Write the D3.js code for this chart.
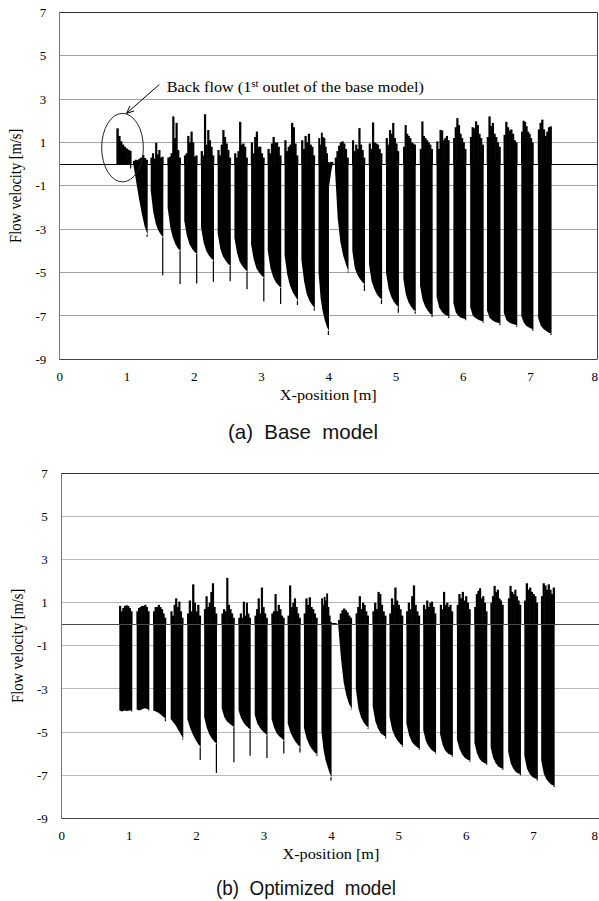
<!DOCTYPE html>
<html>
<head>
<meta charset="utf-8">
<script src="https://cdn.jsdelivr.net/npm/d3@7/dist/d3.min.js"></script>
<style>
  html, body { margin: 0; padding: 0; background: #fff; }
  svg { display: block; }
</style>
</head>
<body>
<script>
// Axis ticks shared by both panels
const xTicks = [0, 1, 2, 3, 4, 5, 6, 7, 8];
const yTicks = [-9, -7, -5, -3, -1, 1, 3, 5, 7];
const gridLevels = [-7, -5, -3, -1, 1, 3, 5];

// (a) Base model: one entry per outlet band.
// start/end = band extent [m]; low = lower velocity profile across the band [m/s];
// tip = sharp minimum at the band's right end; high = upper velocity samples across the band.
const baseStart = [0.853, 1.10, 1.359, 1.611, 1.858, 2.107, 2.355, 2.604, 2.852, 3.10, 3.35, 3.60, 3.855, 4.01, 4.10, 4.357, 4.605, 4.858, 5.116, 5.364, 5.61, 5.86, 6.11, 6.36, 6.61, 6.87, 7.12];
const baseEnd   = [1.07, 1.314, 1.547, 1.805, 2.052, 2.30, 2.55, 2.80, 3.05, 3.30, 3.55, 3.80, 4.01, 4.07, 4.30, 4.546, 4.80, 5.05, 5.30, 5.552, 5.80, 6.05, 6.31, 6.56, 6.81, 7.05, 7.32];
const baseLow = [
  [0, 0, 0, 0, 0, 0],
  [0, -0.8, -1.6, -2.3, -2.9, -3.25],
  [-1.2, -2.2, -2.75, -3.05, -3.25, -3.38],
  [-2.0, -2.9, -3.4, -3.7, -3.9, -4.0],
  [-2.6, -3.3, -3.7, -3.9, -4.05, -4.15],
  [-2.9, -3.6, -4.0, -4.2, -4.35, -4.45],
  [-3.2, -3.9, -4.25, -4.45, -4.6, -4.7],
  [-3.4, -4.1, -4.5, -4.7, -4.85, -4.95],
  [-3.7, -4.4, -4.8, -5.0, -5.15, -5.25],
  [-4.0, -4.8, -5.2, -5.45, -5.6, -5.7],
  [-4.2, -5.1, -5.6, -5.9, -6.1, -6.3],
  [-4.4, -5.4, -6.0, -6.3, -6.5, -6.65],
  [-5.0, -6.2, -6.8, -7.2, -7.5, -7.7],
  [-1.05, -0.8, -0.55, -0.3, -0.1, 0],
  [-0.3, -2.5, -3.6, -4.2, -4.6, -4.95],
  [-4.0, -4.8, -5.1, -5.3, -5.45, -5.55],
  [-4.6, -5.4, -5.75, -6.0, -6.15, -6.25],
  [-5.0, -5.75, -6.1, -6.35, -6.5, -6.6],
  [-5.3, -6.0, -6.35, -6.55, -6.7, -6.8],
  [-5.6, -6.25, -6.55, -6.75, -6.9, -6.98],
  [-6.1, -6.6, -6.8, -6.92, -6.98, -7.02],
  [-6.4, -6.85, -7.0, -7.08, -7.12, -7.15],
  [-6.6, -7.0, -7.1, -7.18, -7.22, -7.26],
  [-6.75, -7.1, -7.2, -7.28, -7.32, -7.36],
  [-6.85, -7.2, -7.3, -7.36, -7.4, -7.44],
  [-7.0, -7.3, -7.45, -7.52, -7.58, -7.62],
  [-7.1, -7.45, -7.6, -7.7, -7.78, -7.82]
];
const baseTip = [-0.2, -3.35, -5.12, -5.53, -5.5, -5.42, -5.4, -5.77, -6.34, -6.45, -6.5, -6.75, -7.88, 0, -5.0, -5.85, -6.45, -6.85, -6.9, -7.05, -7.1, -7.2, -7.32, -7.43, -7.5, -7.68, -7.88];
const baseHigh = [
  [1.65, 1.3, 1.05, 0.9, 0.8, 0.72, 0.66, 0.62],
  [0.15, 0.2, 0.18, 0.25, 0.3, 0.42, 0.28, 0.2],
  [0.3, 0.5, 0.25, 0.98, 0.45, 0.65, 0.3, 0.34],
  [0.3, 0.34, 0.5, 2.2, 1.2, 1.9, 0.65, 0.3],
  [0.4, 0.5, 1.3, 1.0, 1.5, 1.0, 0.35, 0.4],
  [0.6, 0.4, 2.3, 0.9, 1.57, 1.1, 0.8, 0.4],
  [0.65, 0.4, 0.9, 1.57, 1.25, 0.95, 0.65, 0.3],
  [0.5, 0.3, 0.6, 1.95, 0.9, 0.95, 0.8, 0.3],
  [1.0, 0.5, 1.25, 1.5, 0.8, 0.8, 0.5, 0.3],
  [0.7, 0.5, 0.95, 1.25, 1.0, 1.0, 0.8, 0.4],
  [1.1, 0.6, 0.8, 0.9, 1.9, 1.7, 0.95, 0.4],
  [1.1, 0.7, 1.3, 1.0, 1.4, 0.9, 0.8, 0.4],
  [1.2, 0.9, 1.45, 1.25, 1.2, 0.8, 0.5, 0.1],
  [0, 0.05, 0.1, 0.1, 0.1, 0.1, 0.1, 0.1],
  [0.3, 0.6, 0.85, 1.0, 1.05, 0.95, 0.7, 0.3],
  [1.1, 0.6, 0.9, 0.7, 1.66, 0.9, 0.65, 0.3],
  [0.95, 0.7, 1.92, 1.0, 0.95, 0.9, 0.7, 0.5],
  [1.2, 0.9, 1.57, 1.4, 1.9, 1.2, 0.95, 0.6],
  [0.8, 1.8, 1.4, 1.3, 1.2, 1.0, 0.95, 0.9],
  [0.7, 1.97, 1.3, 1.2, 1.1, 1.0, 0.9, 0.7],
  [1.05, 0.7, 1.58, 1.55, 1.1, 1.2, 1.3, 1.1],
  [1.2, 1.7, 2.12, 1.8, 1.4, 1.2, 1.0, 0.7],
  [1.25, 1.7, 1.65, 1.97, 1.8, 1.4, 1.2, 0.9],
  [1.25, 2.2, 1.75, 1.9, 1.4, 1.25, 1.0, 0.8],
  [1.35, 1.95, 1.7, 1.55, 1.6, 1.4, 1.1, 1.0],
  [1.5, 2.0, 1.95, 1.75, 1.5, 1.4, 1.2, 1.0],
  [1.6, 1.9, 2.05, 1.6, 1.3, 1.5, 1.7, 1.74]
];

// (b) Optimized model, same layout of fields
const optStart = [0.861, 1.118, 1.365, 1.623, 1.87, 2.12, 2.38, 2.63, 2.87, 3.12, 3.36, 3.60, 3.86, 4.02, 4.11, 4.37, 4.62, 4.87, 5.12, 5.37, 5.62, 5.87, 6.13, 6.37, 6.63, 6.87, 7.12];
const optEnd   = [1.053, 1.306, 1.553, 1.81, 2.07, 2.31, 2.57, 2.81, 3.06, 3.31, 3.55, 3.80, 4.01, 4.09, 4.31, 4.56, 4.82, 5.07, 5.32, 5.56, 5.81, 6.07, 6.32, 6.56, 6.82, 7.07, 7.32];
const optLow = [
  [-4.0, -4.05, -4.0, -4.02, -4.0, -4.0],
  [-3.95, -4.0, -3.95, -3.9, -3.92, -3.98],
  [-4.0, -4.05, -4.1, -4.2, -4.3, -4.4],
  [-4.4, -4.55, -4.7, -4.9, -5.1, -5.3],
  [-4.4, -4.8, -5.1, -5.35, -5.55, -5.7],
  [-4.3, -4.8, -5.1, -5.3, -5.45, -5.55],
  [-3.9, -4.3, -4.5, -4.6, -4.7, -4.78],
  [-4.0, -4.35, -4.55, -4.7, -4.8, -4.9],
  [-4.2, -4.6, -4.8, -4.95, -5.05, -5.15],
  [-4.4, -4.8, -5.05, -5.2, -5.3, -5.4],
  [-4.6, -5.0, -5.25, -5.45, -5.6, -5.7],
  [-4.8, -5.3, -5.6, -5.8, -5.95, -6.05],
  [-5.0, -5.8, -6.3, -6.6, -6.9, -7.1],
  [0, 0, 0, 0, 0, 0],
  [-0.1, -1.6, -2.7, -3.3, -3.7, -3.92],
  [-3.0, -3.9, -4.3, -4.55, -4.7, -4.8],
  [-3.8, -4.5, -4.85, -5.05, -5.15, -5.24],
  [-4.3, -4.9, -5.2, -5.4, -5.55, -5.63],
  [-4.6, -5.15, -5.45, -5.6, -5.7, -5.78],
  [-4.9, -5.4, -5.65, -5.8, -5.9, -5.94],
  [-5.1, -5.6, -5.85, -5.98, -6.05, -6.1],
  [-5.35, -5.8, -6.05, -6.2, -6.28, -6.33],
  [-5.5, -6.0, -6.25, -6.38, -6.45, -6.48],
  [-5.7, -6.2, -6.45, -6.6, -6.67, -6.71],
  [-5.9, -6.45, -6.7, -6.85, -6.92, -6.95],
  [-6.1, -6.7, -6.95, -7.08, -7.15, -7.18],
  [-6.3, -6.95, -7.2, -7.35, -7.45, -7.49]
];
const optTip = [-4.05, -4.0, -4.5, -5.35, -6.3, -6.9, -6.4, -6.1, -6.2, -6.0, -5.95, -6.1, -7.25, 0, -3.95, -4.85, -5.3, -5.68, -5.82, -6.0, -6.15, -6.38, -6.52, -6.75, -7.0, -7.25, -7.55];
const optHigh = [
  [0.85, 0.6, 0.75, 0.85, 0.88, 0.85, 0.75, 0.6],
  [0.6, 0.75, 0.8, 0.85, 0.85, 0.9, 0.8, 0.6],
  [0.6, 0.8, 0.8, 0.9, 0.8, 0.7, 0.5, 0.3],
  [0.6, 0.4, 0.9, 1.2, 0.8, 1.05, 0.6, 0.3],
  [0.5, 1.1, 0.6, 1.85, 1.0, 0.6, 0.9, 0.4],
  [0.7, 1.3, 0.8, 1.0, 1.5, 1.9, 0.8, 0.5],
  [0.5, 0.7, 0.6, 2.15, 0.9, 0.7, 0.5, 0.3],
  [0.3, 0.5, 0.3, 1.05, 0.4, 1.0, 0.5, 0.3],
  [0.4, 0.7, 1.2, 0.5, 1.7, 0.8, 0.5, 0.3],
  [0.5, 0.6, 1.4, 0.6, 0.9, 0.7, 0.4, 0.3],
  [0.4, 1.8, 0.8, 1.0, 1.2, 0.8, 0.5, 0.3],
  [0.5, 1.2, 0.9, 1.25, 0.8, 0.7, 0.5, 0.3],
  [1.2, 0.9, 1.27, 1.1, 1.43, 0.8, 0.4, 0.1],
  [0.05, 0.06, 0.06, 0.05, 0.06, 0.05, 0.04, 0.03],
  [0.2, 0.5, 0.65, 0.73, 0.65, 0.55, 0.4, 0.3],
  [0.5, 0.8, 1.3, 0.7, 1.0, 0.9, 0.6, 0.4],
  [0.6, 1.0, 0.7, 1.5, 1.4, 0.9, 0.6, 0.4],
  [0.5, 1.2, 0.9, 1.7, 1.1, 0.9, 0.7, 0.4],
  [0.6, 1.0, 0.7, 1.3, 1.8, 0.9, 0.6, 0.4],
  [0.9, 0.7, 1.1, 0.8, 1.0, 1.05, 0.8, 0.5],
  [0.9, 0.7, 1.5, 0.9, 1.0, 0.8, 0.9, 0.6],
  [0.9, 1.4, 1.2, 1.5, 1.1, 1.3, 1.0, 0.7],
  [0.8, 1.4, 1.55, 1.67, 1.2, 1.3, 1.0, 0.6],
  [1.0, 1.3, 1.78, 1.5, 1.6, 1.2, 1.1, 0.9],
  [1.2, 1.78, 1.5, 1.4, 1.6, 1.3, 1.1, 0.9],
  [1.1, 1.9, 1.6, 1.7, 1.5, 1.4, 1.3, 1.0],
  [1.3, 1.9, 1.8, 1.6, 1.85, 1.6, 1.4, 1.7]
];

// Call-out on the base model (data units)
const noteParts = ["Back flow (1", "st", " outlet of the base model)"];
const noteAt = [1.597, 3.34];
const arrowFrom = [1.487, 3.67];
const arrowTo = [1.0, 2.34];
const ringCenter = [0.94, 0.76];
const ringRadius = [0.31, 1.58];

const serif = "'Liberation Serif','Times New Roman',Times,serif";
const captionFont = "'Liberation Sans Narrow','Liberation Sans',Arial,sans-serif";

const svg = d3.select("body").append("svg")
  .attr("width", 599).attr("height", 901)
  .attr("viewBox", "0 0 599 901");

const crisp = v => Math.round(v - 0.5) + 0.5;

function drawPanel(p) {
  const x = d3.scaleLinear().domain([0, 8]).range([p.left, p.right]);
  const y = d3.scaleLinear().domain([-9, 7]).range([p.bottom, p.top]);
  const g = svg.append("g");

  // horizontal gridlines
  g.append("g").selectAll("line").data(gridLevels).join("line")
    .attr("x1", p.left).attr("x2", p.right)
    .attr("y1", d => crisp(y(d))).attr("y2", d => crisp(y(d)))
    .attr("stroke", p.gridColor).attr("stroke-width", 1);

  // outlet bands
  const bands = g.append("g");
  const lowArea = d3.area().x(d => x(d[0])).y0(y(0)).y1(d => y(d[1]));
  p.start.forEach((s, i) => {
    const e = p.end[i];
    const low = p.low[i];
    const pts = low.map((v, k) => [s + (e - s) * k / (low.length - 1), v]);
    bands.append("path").datum(pts).attr("d", lowArea).attr("fill", "#000");

    const last = low[low.length - 1];
    if (p.tip[i] < last) {
      bands.append("line")
        .attr("x1", x(e) - 0.6).attr("x2", x(e) - 0.6)
        .attr("y1", y(last)).attr("y2", y(p.tip[i]))
        .attr("stroke", "#000").attr("stroke-width", 1.2);
    }

    // upper samples drawn as a dense comb of narrow columns
    const hi = p.high[i];
    const slot = d3.scaleBand().domain(d3.range(hi.length)).range([x(s), x(e)]);
    bands.append("g").selectAll("rect").data(hi).join("rect")
      .attr("x", (d, k) => slot(k) - 0.3)
      .attr("width", slot.bandwidth() + 0.6)
      .attr("y", d => y(d))
      .attr("height", d => y(0) - y(d) + 0.5)
      .attr("fill", "#000");
  });

  // zero line
  g.append("line")
    .attr("x1", p.left).attr("x2", p.right)
    .attr("y1", crisp(y(0))).attr("y2", crisp(y(0)))
    .attr("stroke", p.zeroColor).attr("stroke-width", 1);

  // frame
  const frame = g.append("g").attr("fill", "none");
  frame.append("line").attr("x1", p.left).attr("x2", p.right)
    .attr("y1", crisp(p.top)).attr("y2", crisp(p.top)).attr("stroke", "#333");
  frame.append("line").attr("x1", p.left).attr("x2", p.right)
    .attr("y1", crisp(p.bottom)).attr("y2", crisp(p.bottom)).attr("stroke", "#444");
  frame.append("line").attr("x1", crisp(p.left)).attr("x2", crisp(p.left))
    .attr("y1", p.top).attr("y2", p.bottom).attr("stroke", "#777");
  if (p.rightBorder) {
    frame.append("line").attr("x1", crisp(p.right)).attr("x2", crisp(p.right))
      .attr("y1", p.top).attr("y2", p.bottom).attr("stroke", "#444");
  }

  // axes
  const xAxisG = g.append("g").attr("transform", `translate(0,${p.bottom})`)
    .call(d3.axisBottom(x).tickValues(xTicks).tickSize(0).tickPadding(12.5).tickFormat(d => String(d)))
    .call(a => a.select(".domain").remove())
    .attr("font-family", serif).attr("font-size", 13);
  xAxisG.selectAll("text").attr("fill", "#000");
  // the last label sits at the page edge: keep it inside
  xAxisG.selectAll(".tick").filter(d => d === xTicks[xTicks.length - 1])
    .select("text").attr("text-anchor", "end").attr("x", Math.min(4, 597.5 - x(8)));

  g.append("g").attr("transform", `translate(${p.left},0)`)
    .call(d3.axisLeft(y).tickValues(yTicks).tickSize(0).tickPadding(p.yPad).tickFormat(d => String(d)))
    .call(a => a.select(".domain").remove())
    .attr("font-family", serif).attr("font-size", 13)
    .selectAll("text").attr("fill", "#000");

  // axis titles
  g.append("text")
    .attr("transform", `translate(${(p.left + p.right) / 2},${p.bottom + 41}) scale(1.12,1)`)
    .attr("text-anchor", "middle")
    .attr("font-family", serif).attr("font-size", 14.5)
    .text("X-position [m]");

  g.append("text")
    .attr("transform", `translate(${p.yTitleX},${(p.top + p.bottom) / 2}) scale(1.12,1) rotate(-90)`)
    .attr("text-anchor", "middle")
    .attr("font-family", serif).attr("font-size", 14.5)
    .text("Flow velocity [m/s]");

  // caption
  g.append("text")
    .attr("x", p.captionX).attr("y", p.captionY)
    .attr("text-anchor", "middle")
    .attr("font-family", captionFont).attr("font-size", 21)
    .attr("fill", "#111")
    .attr("textLength", p.captionWidth).attr("lengthAdjust", "spacingAndGlyphs")
    .style("white-space", "pre")
    .text(p.caption);

  return { g, x, y };
}

const panelA = drawPanel({
  left: 59.3, right: 597.3, top: 12.3, bottom: 359.3,
  start: baseStart, end: baseEnd, low: baseLow, tip: baseTip, high: baseHigh,
  gridColor: "#a2a2a2", zeroColor: "#000", rightBorder: true,
  yPad: 13, yTitleX: 20.5,
  caption: "(a)  Base  model", captionX: 303, captionY: 439, captionWidth: 150
});

drawPanel({
  left: 61.3, right: 600.5, top: 473.3, bottom: 818.3,
  start: optStart, end: optEnd, low: optLow, tip: optTip, high: optHigh,
  gridColor: "#b8b8b8", zeroColor: "#4a4a4a", rightBorder: false,
  yPad: 13.5, yTitleX: 23,
  caption: "(b)  Optimized  model", captionX: 306, captionY: 895, captionWidth: 180
});

// call-out: ring around the first outlet, arrow and label
{
  const { g, x, y } = panelA;
  g.append("ellipse")
    .attr("cx", x(ringCenter[0])).attr("cy", y(ringCenter[1]))
    .attr("rx", x(ringCenter[0] + ringRadius[0]) - x(ringCenter[0]))
    .attr("ry", y(ringCenter[1] - ringRadius[1]) - y(ringCenter[1]))
    .attr("fill", "none").attr("stroke", "#222").attr("stroke-width", 1);

  const x0 = x(arrowFrom[0]), y0 = y(arrowFrom[1]);
  const x1 = x(arrowTo[0]), y1 = y(arrowTo[1]);
  g.append("line").attr("x1", x0).attr("y1", y0).attr("x2", x1).attr("y2", y1)
    .attr("stroke", "#000").attr("stroke-width", 1);
  const ang = Math.atan2(y0 - y1, x0 - x1);
  const head = 8, spread = 0.42;
  g.append("path")
    .attr("d", `M${x1 + head * Math.cos(ang - spread)},${y1 + head * Math.sin(ang - spread)} L${x1},${y1} L${x1 + head * Math.cos(ang + spread)},${y1 + head * Math.sin(ang + spread)}`)
    .attr("fill", "none").attr("stroke", "#000").attr("stroke-width", 1);

  const t = g.append("text")
    .attr("transform", `translate(${x(noteAt[0])},${y(noteAt[1])}) scale(1.12,1)`)
    .attr("font-family", serif).attr("font-size", 14.5).attr("fill", "#000");
  t.append("tspan").text(noteParts[0]);
  t.append("tspan").attr("font-size", 9.5).attr("dy", -5).text(noteParts[1]);
  t.append("tspan").attr("dy", 5).text(noteParts[2]);
}
</script>
</body>
</html>
